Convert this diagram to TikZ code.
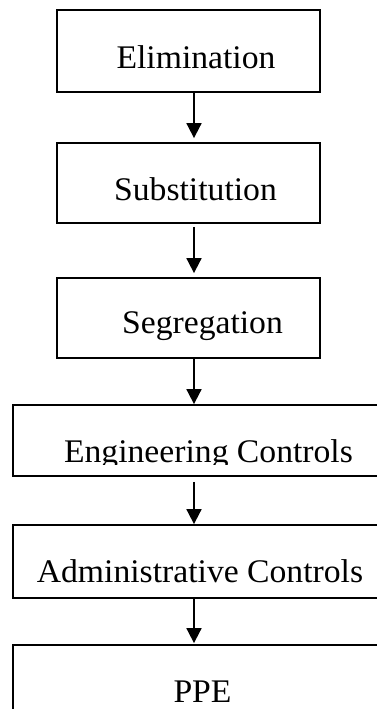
\documentclass[tikz,border=0pt]{standalone}
\usepackage{fontspec}
\setmainfont{Liberation Serif}[FakeStretch=1.02]
\usetikzlibrary{arrows.meta}
\begin{document}
\begin{tikzpicture}[x=1pt,y=-1pt,
  stagebox/.style={draw=black, line width=1.8pt, inner sep=0pt, fill=none},
  stagelabel/.style={anchor=base, inner sep=0pt, font=\fontsize{33}{40}\selectfont},
  flow/.style={draw=black, line width=1.8pt, -{Triangle[width=15pt,length=15pt]}}]
\useasboundingbox (0,0) rectangle (377,709);
\clip (0,0) rectangle (377,709);
\coordinate (ax) at (194,0);

% narrow upper stages
\node[stagebox, minimum width=263pt, minimum height=82pt] (b1) at (188.5,51) {};
\node[stagebox, minimum width=263pt, minimum height=80pt] (b2) at (188.5,183) {};
\node[stagebox, minimum width=263pt, minimum height=80pt] (b3) at (188.5,318) {};
% wide lower stages (run past the right edge)
\node[stagebox, minimum width=387pt, minimum height=71pt] (b4) at (206.5,440.5) {};
\node[stagebox, minimum width=387pt, minimum height=73pt] (b5) at (206.5,561.5) {};
\node[stagebox, minimum width=387pt, minimum height=75pt] (b6) at (206.5,682.5) {};

\node[stagelabel] (t1) at (196,68) {Elimination};
\node[stagelabel] (t2) at (195.5,200) {Substitution};
\node[stagelabel] (t3) at (202.5,333) {Segregation};
\begin{scope}
  \clip (13,405) rectangle (400,464);
  \node[stagelabel] (t4) at (208.5,462) {Engineering Controls};
\end{scope}
\node[stagelabel] (t5) at (200,582) {Administrative Controls};
\node[stagelabel] (t6) at (202.5,702) {PPE};

\draw[flow, shorten >=4pt] (b1.south -| ax) -- (b2.north -| ax);
\draw[flow, shorten <=3pt, shorten >=4pt] (b2.south -| ax) -- (b3.north -| ax);
\draw[flow] (b3.south -| ax) -- (b4.north -| ax);
\draw[flow, shorten <=5pt] (b4.south -| ax) -- (b5.north -| ax);
\draw[flow, shorten >=1pt] (b5.south -| ax) -- (b6.north -| ax);
\end{tikzpicture}
\end{document}
